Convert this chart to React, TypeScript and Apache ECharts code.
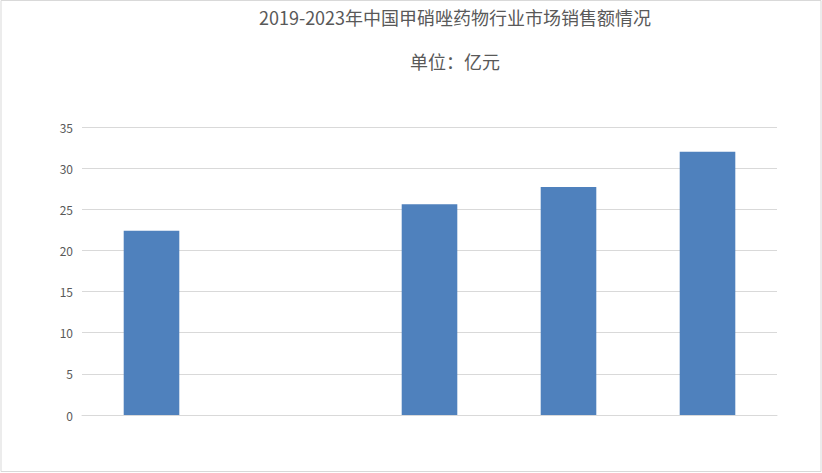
import * as echarts from "echarts";
import React, { useEffect, useRef } from "react";

const years = ["2019年", "2020年", "2021年", "2022年", "2023年"];
// 2020 的柱子在原图中被抹去，留空
const sales = [22.4, null, 25.6, 27.7, 32.0];
const titleText = "2019-2023年中国甲硝唑药物行业市场销售额情况";
const unitText = "单位：亿元";

export default function App() {
  const chartRef = useRef<HTMLDivElement>(null);

  useEffect(() => {
    document.body.style.margin = "0";
    if (!chartRef.current) return;

    const myChart = echarts.init(chartRef.current, null, { renderer: "svg" });
    const font = '"Noto Sans CJK SC", "Noto Sans", sans-serif';
    const option = {
      animation: false,
      backgroundColor: "#ffffff",
      title: [
        {
          text: titleText,
          left: 450,
          top: 3,
          textAlign: "center",
          textStyle: { fontFamily: font, fontSize: 18, fontWeight: "normal", color: "#595959" },
        },
        {
          text: unitText,
          left: 450,
          top: 47,
          textAlign: "center",
          textStyle: { fontFamily: font, fontSize: 18, fontWeight: "normal", color: "#595959" },
        },
      ],
      graphic: [
        {
          type: "rect",
          shape: { x: 1, y: 0.5, width: 820, height: 471 },
          style: { fill: "none", stroke: "#d9d9d9", lineWidth: 1 },
        },
      ],
      grid: { left: 82, right: 45, top: 127, bottom: 58 },
      xAxis: {
        type: "category",
        data: years,
        axisLine: { show: true, lineStyle: { color: "#d9d9d9" } },
        axisTick: { show: false },
        axisLabel: { show: false },
      },
      yAxis: {
        type: "value",
        min: 0,
        max: 35,
        interval: 5,
        axisLine: { show: false },
        axisTick: { show: false },
        axisLabel: { color: "#595959", fontSize: 12, fontFamily: font, margin: 9 },
        splitLine: { lineStyle: { color: "#d9d9d9" } },
      },
      series: [
        {
          name: "销售额",
          type: "bar",
          data: sales,
          barWidth: "40%",
          itemStyle: { color: "#4f81bd" },
        },
      ],
    };
    myChart.setOption(option);

    return () => {
      myChart.dispose();
    };
  }, []);

  return <div ref={chartRef} style={{ width: "822px", height: "473px" }}></div>;
}
